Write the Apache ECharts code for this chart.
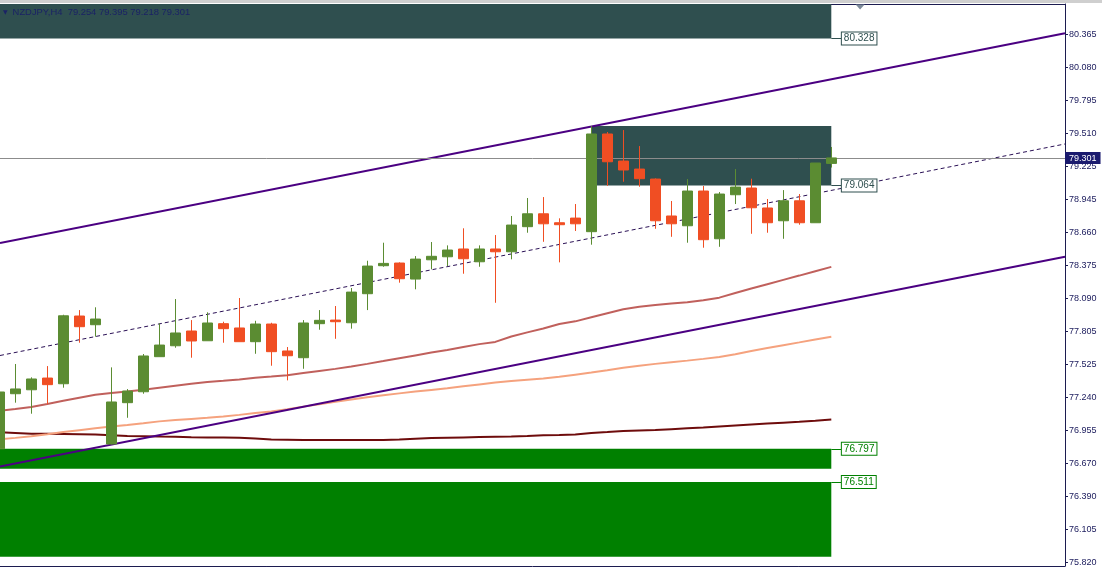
<!DOCTYPE html>
<html><head><meta charset="utf-8">
<script src="https://cdn.jsdelivr.net/npm/echarts@6/dist/echarts.min.js"></script>
<style>
html,body{margin:0;padding:0;background:#fff;width:1102px;height:567px;overflow:hidden}
#topbar{position:absolute;left:0;top:0;width:1102px;height:3px;background:#cfcfcf}
#chart{position:absolute;left:0;top:3px;width:1102px;height:564px}
</style></head><body>
<div id="topbar"></div><div id="chart"></div>
<script>
// ---------- data ----------
const symbolName = 'NZDJPY,H4';
const opens  = [76.797,77.271,77.305,77.406,77.357,77.940,77.865,76.838,77.194,77.288,77.590,77.684,77.811,77.727,77.874,77.837,77.719,77.871,77.639,77.581,77.874,77.905,77.882,78.132,78.373,78.396,78.258,78.424,78.450,78.517,78.407,78.517,78.493,78.709,78.820,78.743,78.783,78.666,79.507,79.274,79.205,79.119,78.801,78.717,79.016,78.605,78.984,79.042,78.870,78.760,78.932,78.743,79.254];
const highs  = [77.310,77.527,77.412,77.509,77.951,77.991,78.015,77.498,77.311,77.613,77.877,78.086,77.905,77.972,77.891,78.095,77.899,77.882,77.673,77.905,77.991,78.026,78.181,78.416,78.571,78.402,78.456,78.577,78.548,78.695,78.548,78.637,78.801,78.956,78.964,78.781,78.904,79.575,79.524,79.541,79.403,79.125,78.930,79.119,79.059,79.007,79.205,79.122,78.947,79.024,78.990,79.257,79.395];
const lows   = [76.700,77.194,77.099,77.182,77.323,77.710,77.762,76.835,77.064,77.271,77.590,77.667,77.581,77.727,77.710,77.719,77.615,77.512,77.386,77.486,77.822,77.744,77.831,77.991,78.364,78.227,78.170,78.342,78.370,78.304,78.364,78.054,78.428,78.657,78.579,78.402,78.672,78.554,79.061,79.096,79.053,78.691,78.622,78.571,78.528,78.536,78.904,78.648,78.657,78.605,78.726,78.743,79.218];
const closes = [77.286,77.312,77.398,77.349,77.942,77.848,77.914,77.200,77.294,77.596,77.690,77.794,77.725,77.880,77.831,77.719,77.871,77.633,77.598,77.880,77.903,77.891,78.146,78.370,78.393,78.261,78.430,78.454,78.508,78.433,78.517,78.493,78.723,78.820,78.734,78.726,78.734,79.507,79.268,79.197,79.122,78.760,78.734,79.016,78.597,78.990,79.050,78.872,78.743,78.932,78.743,79.257,79.301];

// moving averages (one value per candle)
const maRosy   = [77.124,77.140,77.157,77.183,77.211,77.237,77.262,77.277,77.290,77.305,77.323,77.340,77.357,77.371,77.382,77.394,77.408,77.419,77.431,77.449,77.467,77.485,77.505,77.528,77.552,77.577,77.601,77.625,77.648,77.673,77.698,77.717,77.764,77.799,77.832,77.871,77.894,77.930,77.964,77.998,78.019,78.035,78.048,78.059,78.076,78.098,78.138,78.177,78.214,78.251,78.288,78.326,78.363];
const maSalmon = [76.878,76.891,76.905,76.922,76.941,76.957,76.973,76.989,77.002,77.017,77.033,77.044,77.054,77.064,77.075,77.089,77.105,77.119,77.137,77.160,77.181,77.201,77.222,77.240,77.257,77.274,77.290,77.304,77.318,77.335,77.351,77.367,77.381,77.392,77.402,77.417,77.435,77.453,77.473,77.494,77.511,77.528,77.542,77.556,77.571,77.588,77.610,77.639,77.664,77.689,77.713,77.738,77.761];
const maMaroon = [76.939,76.933,76.927,76.926,76.924,76.922,76.920,76.914,76.908,76.905,76.902,76.900,76.897,76.895,76.894,76.891,76.885,76.878,76.875,76.872,76.872,76.872,76.872,76.872,76.872,76.877,76.883,76.889,76.892,76.895,76.898,76.901,76.903,76.907,76.913,76.916,76.921,76.933,76.941,76.950,76.955,76.959,76.966,76.973,76.980,76.989,76.998,77.006,77.014,77.022,77.030,77.039,77.049];

// price-axis tick labels and time-axis tick positions (candle index)
const yTicks = [75.820,76.105,76.390,76.670,76.955,77.240,77.525,77.805,78.090,78.375,78.660,78.945,79.225,79.510,79.795,80.080,80.365];
const xTicks = [4,8,12,16,20,24,28,32,36,40,44,48,52,56,60,64];

// trend lines: price at left edge / right edge of the plot
const upperChannel = [78.568, 80.374];
const lowerChannel = [76.644, 78.451];
const midChannel   = [77.600, 79.421];

// rectangles (zones)
const zoneTop    = [null, 79.575, 76.797, 76.511];   // null = above chart
const zoneBottom = [80.328, 79.064, 76.626, 75.868];
const zoneStart  = [null, 37, null, null];           // null = from left edge
const zoneEnd    = 52;
const zoneLabels = [80.328, 79.064, 76.797, 76.511];
const zoneColors = ['#2f4f4f', '#2f4f4f', '#008000', '#008000'];

const lastPrice = 79.301;
const shiftMarkerIndex = 53.8;

// ---------- layout constants ----------
const X_MIN = 0.04375, X_MAX = 66.606;
const Y_MIN = 75.788, Y_MAX = 80.626;
const FONT = 'Liberation Sans';
const AXIS_COLOR = '#1c1c50';

const fmt = v => v.toFixed(3);
const last = opens.length - 1;
const header = `${symbolName}  ${fmt(opens[last])} ${fmt(highs[last])} ${fmt(lows[last])} ${fmt(closes[last])}`;

const candleData = opens.map((o, i) => [i, o, closes[i], lows[i], highs[i]]);
const toXY = arr => arr.map((v, i) => [i, v]);

const areaData = zoneBottom.map((b, i) => [
  { coord: [zoneStart[i] == null ? X_MIN : zoneStart[i], zoneTop[i] == null ? Y_MAX : zoneTop[i]],
    itemStyle: { color: zoneColors[i], opacity: 1 } },
  { coord: [zoneEnd, b] }
]);

const zoneLabelLines = zoneLabels.map((p, i) => [
  { coord: [zoneEnd, p],
    lineStyle: { color: zoneColors[i], width: 1, type: 'solid' },
    label: { show: true, position: 'end', distance: 0, formatter: fmt(p),
      color: zoneColors[i], backgroundColor: '#ffffff', borderColor: zoneColors[i], borderWidth: 1,
      padding: [1, 2, 0, 2], fontSize: 10, fontFamily: FONT, lineHeight: 11 } },
  { coord: [zoneEnd + 0.66, p] }
]);

const chart = echarts.init(document.getElementById('chart'), null, { renderer: 'canvas' });
chart.setOption({
  animation: false,
  backgroundColor: '#ffffff',
  title: {
    left: 3, top: 5, padding: 0,
    text: '{t|▼}' + header,
    textStyle: {
      fontSize: 9.4, fontFamily: FONT, fontWeight: 'normal', color: '#1b2266',
      rich: { t: { fontSize: 6, fontFamily: 'DejaVu Sans', color: '#1b2266', padding: [0, 5, 0, 0] } }
    }
  },
  grid: { left: 0, right: 37, top: 1, bottom: 1, containLabel: false },
  xAxis: [
    { type: 'value', min: X_MIN, max: X_MAX, position: 'bottom',
      axisLine: { show: true, lineStyle: { color: AXIS_COLOR, width: 1 } },
      axisTick: { show: true, length: 3, customValues: xTicks, lineStyle: { color: AXIS_COLOR } },
      axisLabel: { show: false }, splitLine: { show: false } },
    { type: 'value', min: X_MIN, max: X_MAX, position: 'top',
      axisLine: { show: true, lineStyle: { color: AXIS_COLOR, width: 1 } },
      axisTick: { show: false }, axisLabel: { show: false }, splitLine: { show: false } }
  ],
  yAxis: {
    type: 'value', position: 'right', min: Y_MIN, max: Y_MAX, scale: true,
    axisLine: { show: true, lineStyle: { color: AXIS_COLOR, width: 1 } },
    axisTick: { show: true, length: 3, inside: false, customValues: yTicks, lineStyle: { color: AXIS_COLOR } },
    axisLabel: { show: true, customValues: yTicks, margin: 4, fontSize: 9, fontFamily: FONT,
      color: '#202060', formatter: v => fmt(v) },
    splitLine: { show: false }
  },
  series: [
    { // zones
      type: 'line', name: 'zones', data: [], silent: true, z: 1,
      markArea: { silent: true, data: areaData },
      markLine: { silent: true, symbol: ['none', 'none'], data: zoneLabelLines },
      markPoint: { silent: true, data: [{
        coord: [shiftMarkerIndex, Y_MAX], symbol: 'triangle', symbolRotate: 180,
        symbolSize: [9, 5], symbolOffset: [0, 3], itemStyle: { color: '#7d8b9a' }, label: { show: false } }] }
    },
    { type: 'line', name: 'maMaroon', data: toXY(maMaroon), showSymbol: false, silent: true, z: 3,
      lineStyle: { color: '#6e0c0c', width: 2 } },
    { type: 'line', name: 'maSalmon', data: toXY(maSalmon), showSymbol: false, silent: true, z: 3,
      lineStyle: { color: '#f5a27e', width: 2 } },
    { type: 'line', name: 'maRosy', data: toXY(maRosy), showSymbol: false, silent: true, z: 3,
      lineStyle: { color: '#c0605c', width: 2 } },
    { type: 'line', name: 'upper', data: [[X_MIN, upperChannel[0]], [X_MAX, upperChannel[1]]],
      showSymbol: false, silent: true, z: 4, lineStyle: { color: '#4b0082', width: 2 } },
    { type: 'line', name: 'lower', data: [[X_MIN, lowerChannel[0]], [X_MAX, lowerChannel[1]]],
      showSymbol: false, silent: true, z: 4, lineStyle: { color: '#4b0082', width: 2 } },
    { type: 'line', name: 'mid', data: [[X_MIN, midChannel[0]], [X_MAX, midChannel[1]]],
      showSymbol: false, silent: true, z: 4, lineStyle: { color: '#2a1055', width: 1, type: [4, 3] } },
    { type: 'candlestick', name: symbolName, data: candleData, barWidth: 10, z: 5, silent: true,
      itemStyle: { color: '#5b8c32', color0: '#f04e23', borderColor: '#5b8c32', borderColor0: '#f04e23', borderWidth: 1 },
      markLine: { silent: true, symbol: ['none', 'none'],
        data: [{ yAxis: lastPrice,
          lineStyle: { color: '#8c8c8c', width: 1, type: 'solid' },
          label: { show: true, position: 'end', distance: 0, formatter: fmt(lastPrice),
            color: '#ffffff', backgroundColor: '#1a1a6e', padding: [2, 4, 1, 4],
            fontSize: 9, fontFamily: FONT } }] } }
  ]
});
</script>
</body></html>
